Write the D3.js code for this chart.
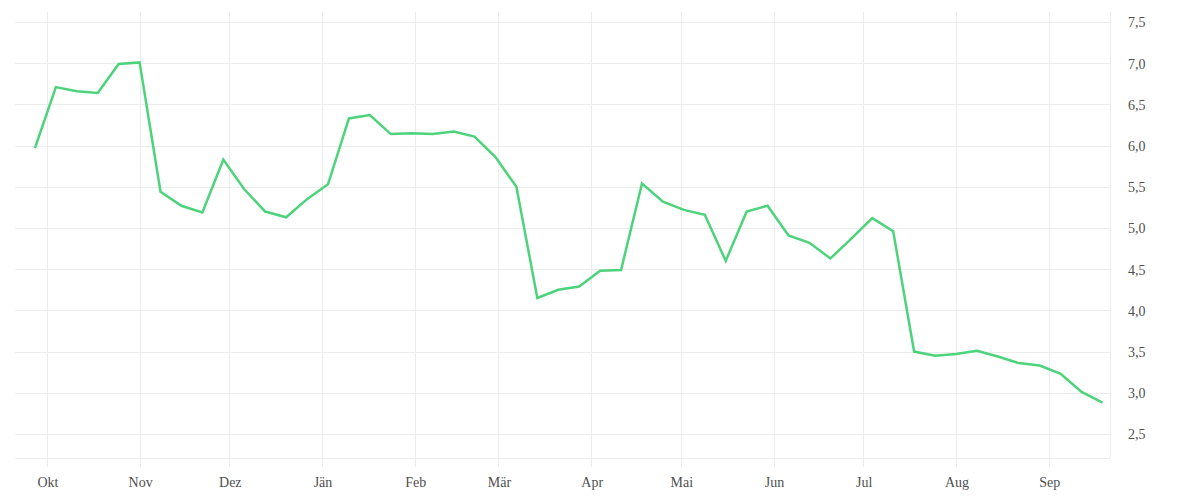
<!DOCTYPE html>
<html>
<head>
<meta charset="utf-8">
<script src="https://cdn.jsdelivr.net/npm/d3@7"></script>
<style>
  body { margin: 0; background: #fff; }
  #chart text { font-family: "Liberation Serif", "DejaVu Serif", serif; font-size: 14px; fill: #505050; }
</style>
</head>
<body>
<div id="chart"></div>
<script>
// weekly values, first week starts 27 Sep 2022
var firstWeek = Date.UTC(2022, 8, 27);
var values = [5.97, 6.71, 6.66, 6.64, 6.99, 7.01, 5.44, 5.27, 5.19, 5.83,
              5.47, 5.20, 5.13, 5.35, 5.53, 6.33, 6.37, 6.14, 6.15, 6.14,
              6.17, 6.11, 5.86, 5.50, 4.15, 4.25, 4.29, 4.48, 4.49, 5.54,
              5.32, 5.22, 5.16, 4.60, 5.20, 5.27, 4.91, 4.82, 4.63, 4.87,
              5.12, 4.96, 3.50, 3.45, 3.47, 3.51, 3.44, 3.36, 3.33, 3.23,
              3.01, 2.88];
var monthLabels = ["Jän", "Feb", "Mär", "Apr", "Mai", "Jun", "Jul", "Aug", "Sep", "Okt", "Nov", "Dez"];
var yTicks = [2.5, 3.0, 3.5, 4.0, 4.5, 5.0, 5.5, 6.0, 6.5, 7.0, 7.5];

var width = 1200, height = 500;
var margin = {top: 12, right: 90, bottom: 42, left: 15};

var data = values.map(function (v, i) {
    return {date: d3.utcWeek.offset(new Date(firstWeek), i), value: v};
});

var x = d3.scaleUtc()
    .domain([new Date(Date.UTC(2022, 8, 20, 8)), new Date(Date.UTC(2023, 8, 21, 12))])
    .range([margin.left, width - margin.right]);
var y = d3.scaleLinear()
    .domain([2.208, 7.622])
    .range([height - margin.bottom, margin.top]);

var de = d3.formatLocale({decimal: ",", thousands: ".", grouping: [3], currency: ["", " €"]});
var fmt = de.format(".1f");

var svg = d3.select("#chart").append("svg")
    .attr("width", width)
    .attr("height", height);

// horizontal grid
svg.append("g")
    .selectAll("line")
    .data(yTicks)
    .enter().append("line")
    .attr("x1", margin.left)
    .attr("x2", width - margin.right)
    .attr("y1", function (d) { return Math.round(y(d)) + 0.5; })
    .attr("y2", function (d) { return Math.round(y(d)) + 0.5; })
    .attr("stroke", "#ececec");

// vertical grid + month labels
var months = x.ticks(d3.utcMonth.every(1)).filter(function (d) { return x(d) > margin.left; });
var xg = svg.append("g");
xg.selectAll("line")
    .data(months)
    .enter().append("line")
    .attr("x1", function (d) { return Math.round(x(d)) + 0.5; })
    .attr("x2", function (d) { return Math.round(x(d)) + 0.5; })
    .attr("y1", margin.top)
    .attr("y2", height - margin.bottom + 9)
    .attr("stroke", "#ececec");
xg.selectAll("text")
    .data(months)
    .enter().append("text")
    .attr("x", function (d) { return x(d) + 1; })
    .attr("y", height - 13)
    .attr("text-anchor", "middle")
    .text(function (d) { return monthLabels[d.getUTCMonth()]; });

// bottom + right axis lines
svg.append("line")
    .attr("x1", margin.left).attr("x2", width - margin.right)
    .attr("y1", height - margin.bottom + 0.5).attr("y2", height - margin.bottom + 0.5)
    .attr("stroke", "#ececec");
svg.append("line")
    .attr("x1", width - margin.right + 0.5).attr("x2", width - margin.right + 0.5)
    .attr("y1", margin.top).attr("y2", height - margin.bottom)
    .attr("stroke", "#ececec");

// y labels on the right
svg.append("g")
    .selectAll("text")
    .data(yTicks)
    .enter().append("text")
    .attr("x", width - margin.right + 18)
    .attr("y", function (d) { return y(d); })
    .attr("dy", "0.38em")
    .text(function (d) { return fmt(d); });

// the line
var line = d3.line()
    .x(function (d) { return x(d.date); })
    .y(function (d) { return y(d.value); });

svg.append("path")
    .datum(data)
    .attr("fill", "none")
    .attr("stroke", "#4cd37b")
    .attr("stroke-width", 2.5)
    .attr("stroke-linejoin", "miter")
    .attr("d", line);
</script>
</body>
</html>
